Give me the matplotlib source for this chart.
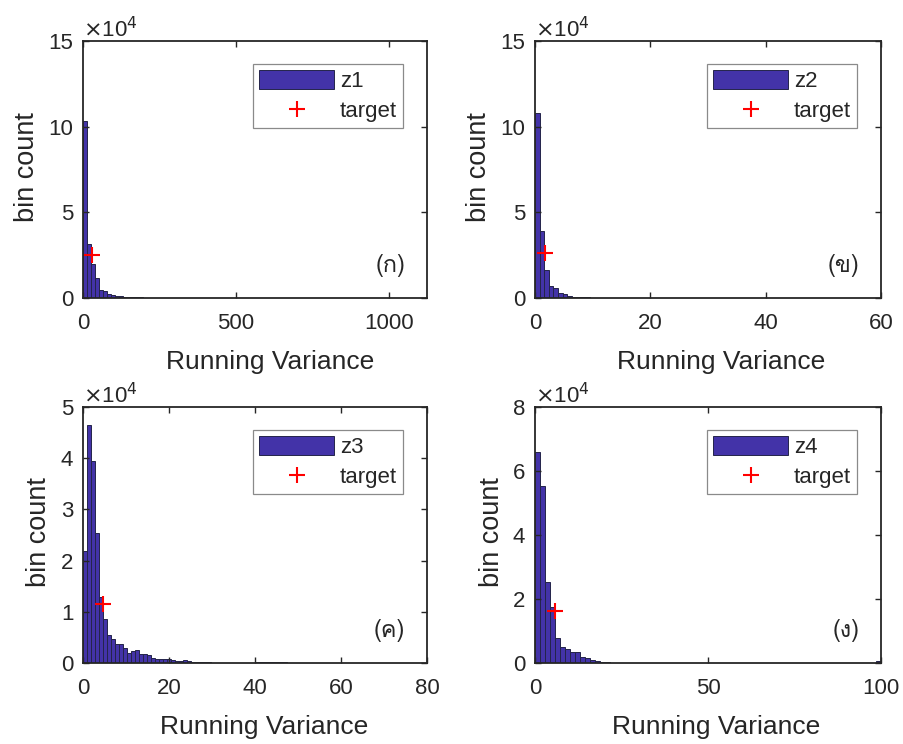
import matplotlib
matplotlib.use('Agg')
import matplotlib.pyplot as plt
import numpy as np
from matplotlib import font_manager
from matplotlib.ticker import FuncFormatter, MultipleLocator

# ---------------- data ----------------
z1_bin_width = 13.0
z1_counts = [103300, 31800, 19800, 11900, 4500, 4100, 2500, 1600, 1000, 1300,
             600, 500, 450, 400, 300, 250, 200, 200, 150, 100, 100, 80, 80, 60, 50]
z1_target = (30, 25200)

z2_bin_width = 0.8
z2_counts = [108000, 39300, 16400, 6800, 6000, 3100, 2100, 1200, 700, 600,
             400, 300, 200, 200, 150, 100, 80, 60, 50, 40]
z2_target = (1.8, 26400)

z3_bin_width = 0.93
z3_counts = [21900, 46500, 39500, 25400, 12800, 8500, 5500, 4700, 3650, 3650,
             2860, 1890, 2410, 2540, 1690, 1690, 1500, 980, 850, 720,
             850, 720, 590, 460, 330, 590, 460, 200, 150, 120,
             100, 100, 80, 80, 60, 60, 50, 50, 40, 40,
             40, 40, 40, 150, 150, 100, 100, 150, 100, 100,
             100, 60, 40, 40, 40]
z3_target = (4.72, 11600)

z4_bin_width = 1.45
z4_counts = [66000, 55300, 25200, 17400, 7700, 5100, 4300, 3500, 3400, 2000,
             1700, 900, 600, 300, 200, 150, 100, 80, 60, 50,
             40, 40, 40, 30, 30, 30, 30, 30, 30, 30,
             30, 30, 30, 30, 30, 30, 30, 30, 30, 30,
             30, 150, 30, 30, 30, 30, 30, 30, 30, 30,
             30, 30, 30, 30, 30, 30, 30, 30, 30, 30,
             30, 30, 30, 30, 30, 30, 30, 30, 500]
z4_target = (5.9, 16300)

series_names = ['z1', 'z2', 'z3', 'z4']
panel_labels = ['(ก)', '(ข)', '(ค)', '(ง)']
xlims = [(0, 1125), (0, 60), (0, 80), (0, 100)]
xticks = [[0, 500, 1000], [0, 20, 40, 60], [0, 20, 40, 60, 80], [0, 50, 100]]
ylims = [(0, 150000), (0, 150000), (0, 50000), (0, 80000)]
ystep = [50000, 50000, 10000, 20000]
xlabel_text = 'Running Variance'
ylabel_text = 'bin count'
target_label = 'target'

# ---------------- fonts ----------------
base_font = 'Liberation Sans'
plt.rcParams['font.family'] = [base_font, 'DejaVu Sans']
installed = {f.name for f in font_manager.fontManager.ttflist}
thai_family = [f for f in ['Loma', 'Garuda', 'Norasi', 'FreeSerif'] if f in installed][:1] + [base_font, 'DejaVu Sans']

bar_face = '#4333A8'
bar_edge = '#24244A'
axis_col = '#262626'
TXT = '#262626'

fig = plt.figure(figsize=(9.04, 7.44), dpi=100)
W, H = 904, 744
# axes pixel boxes: left, top, right, bottom
boxes = [(83, 41, 427, 298), (535, 41, 881, 298), (83, 407, 427, 663), (535, 407, 881, 663)]
xlabel_x = [0.543, 0.538, 0.527, 0.523]
counts_all = [z1_counts, z2_counts, z3_counts, z4_counts]
widths_all = [z1_bin_width, z2_bin_width, z3_bin_width, z4_bin_width]
targets = [z1_target, z2_target, z3_target, z4_target]

for i in range(4):
    l, t, r, b = boxes[i]
    ax = fig.add_axes([l / W, 1 - b / H, (r - l) / W, (b - t) / H])
    counts = np.array(counts_all[i], dtype=float)
    w = widths_all[i]
    lefts = np.arange(len(counts)) * w
    bars = ax.bar(lefts, counts, width=w, align='edge', color=bar_face,
                  edgecolor=bar_edge, linewidth=0.7)
    tp, = ax.plot([targets[i][0]], [targets[i][1]], linestyle='none', marker='+',
                  color='#FF0000', markersize=12, markeredgewidth=1.5)
    ax.set_xlim(*xlims[i])
    ax.set_ylim(*ylims[i])
    ax.set_xticks(xticks[i])
    ax.yaxis.set_major_locator(MultipleLocator(ystep[i]))
    ax.yaxis.set_major_formatter(FuncFormatter(lambda v, p: f'{v/1e4:g}'))
    ax.tick_params(direction='in', length=4, width=1.0, top=True, right=True,
                   labelsize=16, color=axis_col, labelcolor=TXT)
    ax.tick_params(axis='x', pad=11)
    ax.tick_params(axis='y', pad=7)
    for s in ax.spines.values():
        s.set_linewidth(1.3)
        s.set_color(axis_col)
    ax.set_xlabel(xlabel_text, fontsize=19, color=TXT)
    ax.xaxis.set_label_coords(xlabel_x[i], -64 / (b - t))
    ax.xaxis.label.set_va('center')
    ax.set_ylabel(ylabel_text, fontsize=19.5, labelpad=6, color=TXT)
    ax.yaxis.label.set_y(0.51)
    ax.text(0.0, 0.997, r'$\times$10$^{4}$', transform=ax.transAxes, fontsize=16,
            ha='left', va='bottom', color=TXT)
    ax.text(0.937, 0.125, panel_labels[i], transform=ax.transAxes, fontsize=17,
            ha='right', va='center', family=thai_family, color=TXT)
    leg = ax.legend([bars, tp], [series_names[i], target_label], loc='upper right',
                    bbox_to_anchor=(1 - 24 / (r - l), 1 - 23 / (b - t)),
                    frameon=True, fancybox=False, edgecolor='#8a8a8a', framealpha=1,
                    handlelength=3.4, handleheight=0.95, fontsize=16, borderpad=0.27,
                    labelspacing=0.35, handletextpad=0.25, borderaxespad=0)
    leg.get_frame().set_linewidth(0.9)
    for txt in leg.get_texts():
        txt.set_color(TXT)

fig.savefig('out.png', dpi=100)
